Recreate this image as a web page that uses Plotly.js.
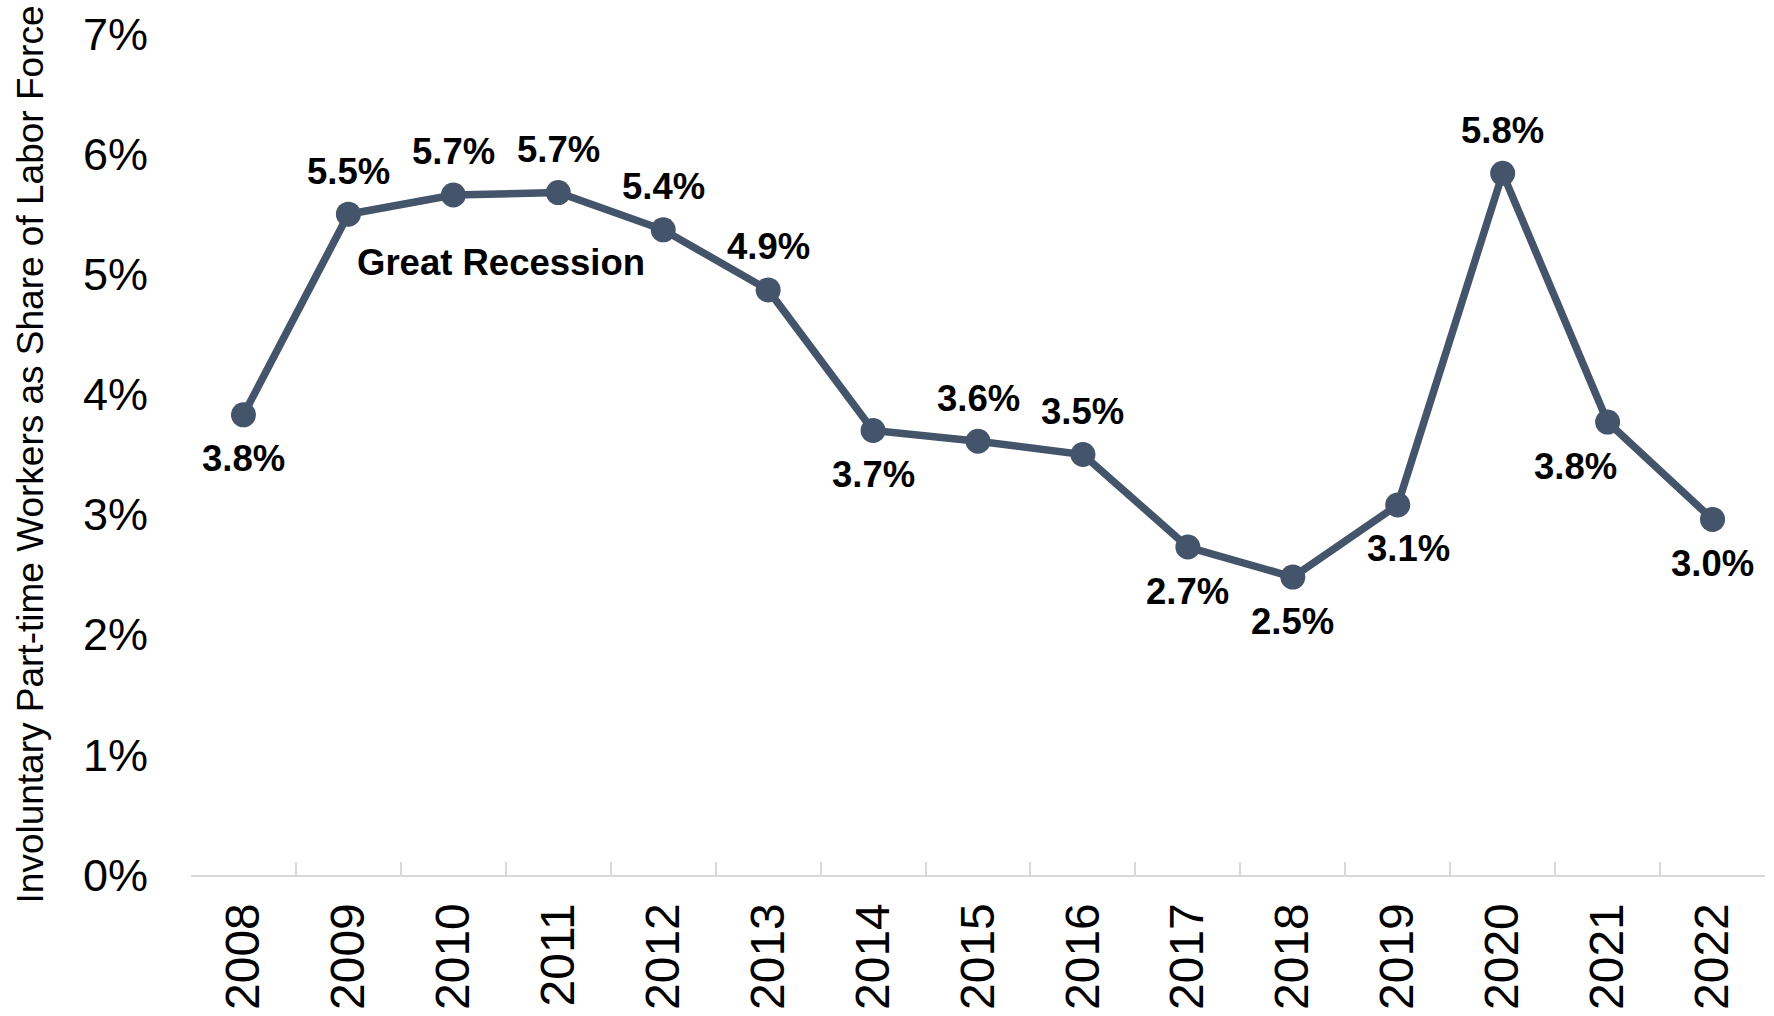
<!DOCTYPE html>
<html>
<head>
<meta charset="utf-8">
<script src="https://cdn.plot.ly/plotly-3.0.1.min.js"></script>
<style>
  html, body { margin: 0; padding: 0; background: #ffffff; }
  #chart { width: 1774px; height: 1016px; }
</style>
</head>
<body>
<div id="chart"></div>
<script>
// ---- data ----
const years = ["2008", "2009", "2010", "2011", "2012", "2013", "2014", "2015",
               "2016", "2017", "2018", "2019", "2020", "2021", "2022"];
const shareValues = [3.83, 5.50, 5.66, 5.68, 5.37, 4.87, 3.70, 3.61,
                     3.50, 2.73, 2.48, 3.08, 5.84, 3.77, 2.96];
const yTickValues = [0, 1, 2, 3, 4, 5, 6, 7];
const yTickLabels = ["0%", "1%", "2%", "3%", "4%", "5%", "6%", "7%"];
const recessionLabel = "Great Recession";
const yTitleText = "Involuntary Part-time Workers as Share of Labor Force";

// ---- styling (label placement) ----
const labelSide = ["below", "above", "above", "above", "above", "above", "below", "above",
                   "above", "below", "below", "below", "above", "below", "below"];
const labelXShift = [0, 0, 0, 0, 0, 0, 0, 0, 0, 0, 0, 11, 0, -32, 0];

const lineColor = "#44546A";
const fontFam = "Arial, 'Liberation Sans', sans-serif";

const trace = {
  type: "scatter",
  mode: "lines+markers",
  x: years,
  y: shareValues,
  line: { color: lineColor, width: 7.5 },
  marker: { color: lineColor, size: 25 },
  hoverinfo: "x+y",
  cliponaxis: false
};

const annotations = years.map((yr, i) => ({
  x: i,
  y: shareValues[i],
  xref: "x",
  yref: "y",
  text: "<b>" + shareValues[i].toFixed(1) + "%</b>",
  showarrow: false,
  xanchor: "center",
  yanchor: "middle",
  xshift: labelXShift[i],
  yshift: labelSide[i] === "above" ? 43 : -44,
  font: { family: fontFam, size: 36.5, color: "#000000" }
}));

annotations.push({
  x: 2.45,
  y: 5.10,
  xref: "x",
  yref: "y",
  text: "<b>" + recessionLabel + "</b>",
  showarrow: false,
  xanchor: "center",
  yanchor: "middle",
  font: { family: fontFam, size: 36.5, color: "#000000" }
});

const layout = {
  width: 1774,
  height: 1016,
  margin: { l: 191, r: 9, t: 34, b: 141, pad: 0 },
  paper_bgcolor: "#ffffff",
  plot_bgcolor: "#ffffff",
  showlegend: false,
  font: { family: fontFam, color: "#000000" },
  xaxis: {
    type: "category",
    range: [-0.5, 14.5],
    showgrid: false,
    zeroline: false,
    showline: true,
    linecolor: "#d9d9d9",
    linewidth: 2,
    ticks: "inside",
    tickson: "boundaries",
    ticklen: 13,
    tickwidth: 2,
    tickcolor: "#d9d9d9",
    tickangle: -90,
    ticklabelstandoff: 7,
    tickfont: { family: fontFam, size: 48, color: "#000000" },
    fixedrange: true
  },
  yaxis: {
    range: [0, 7],
    showgrid: false,
    zeroline: false,
    showline: false,
    ticks: "",
    tickvals: yTickValues,
    ticktext: yTickLabels,
    ticklabelstandoff: 42,
    tickfont: { family: fontFam, size: 45, color: "#000000" },
    title: {
      text: yTitleText,
      font: { family: fontFam, size: 37, color: "#000000" },
      standoff: 28
    },
    fixedrange: true
  },
  annotations: annotations
};

Plotly.newPlot("chart", [trace], layout, { displayModeBar: false, staticPlot: true });
</script>
</body>
</html>
